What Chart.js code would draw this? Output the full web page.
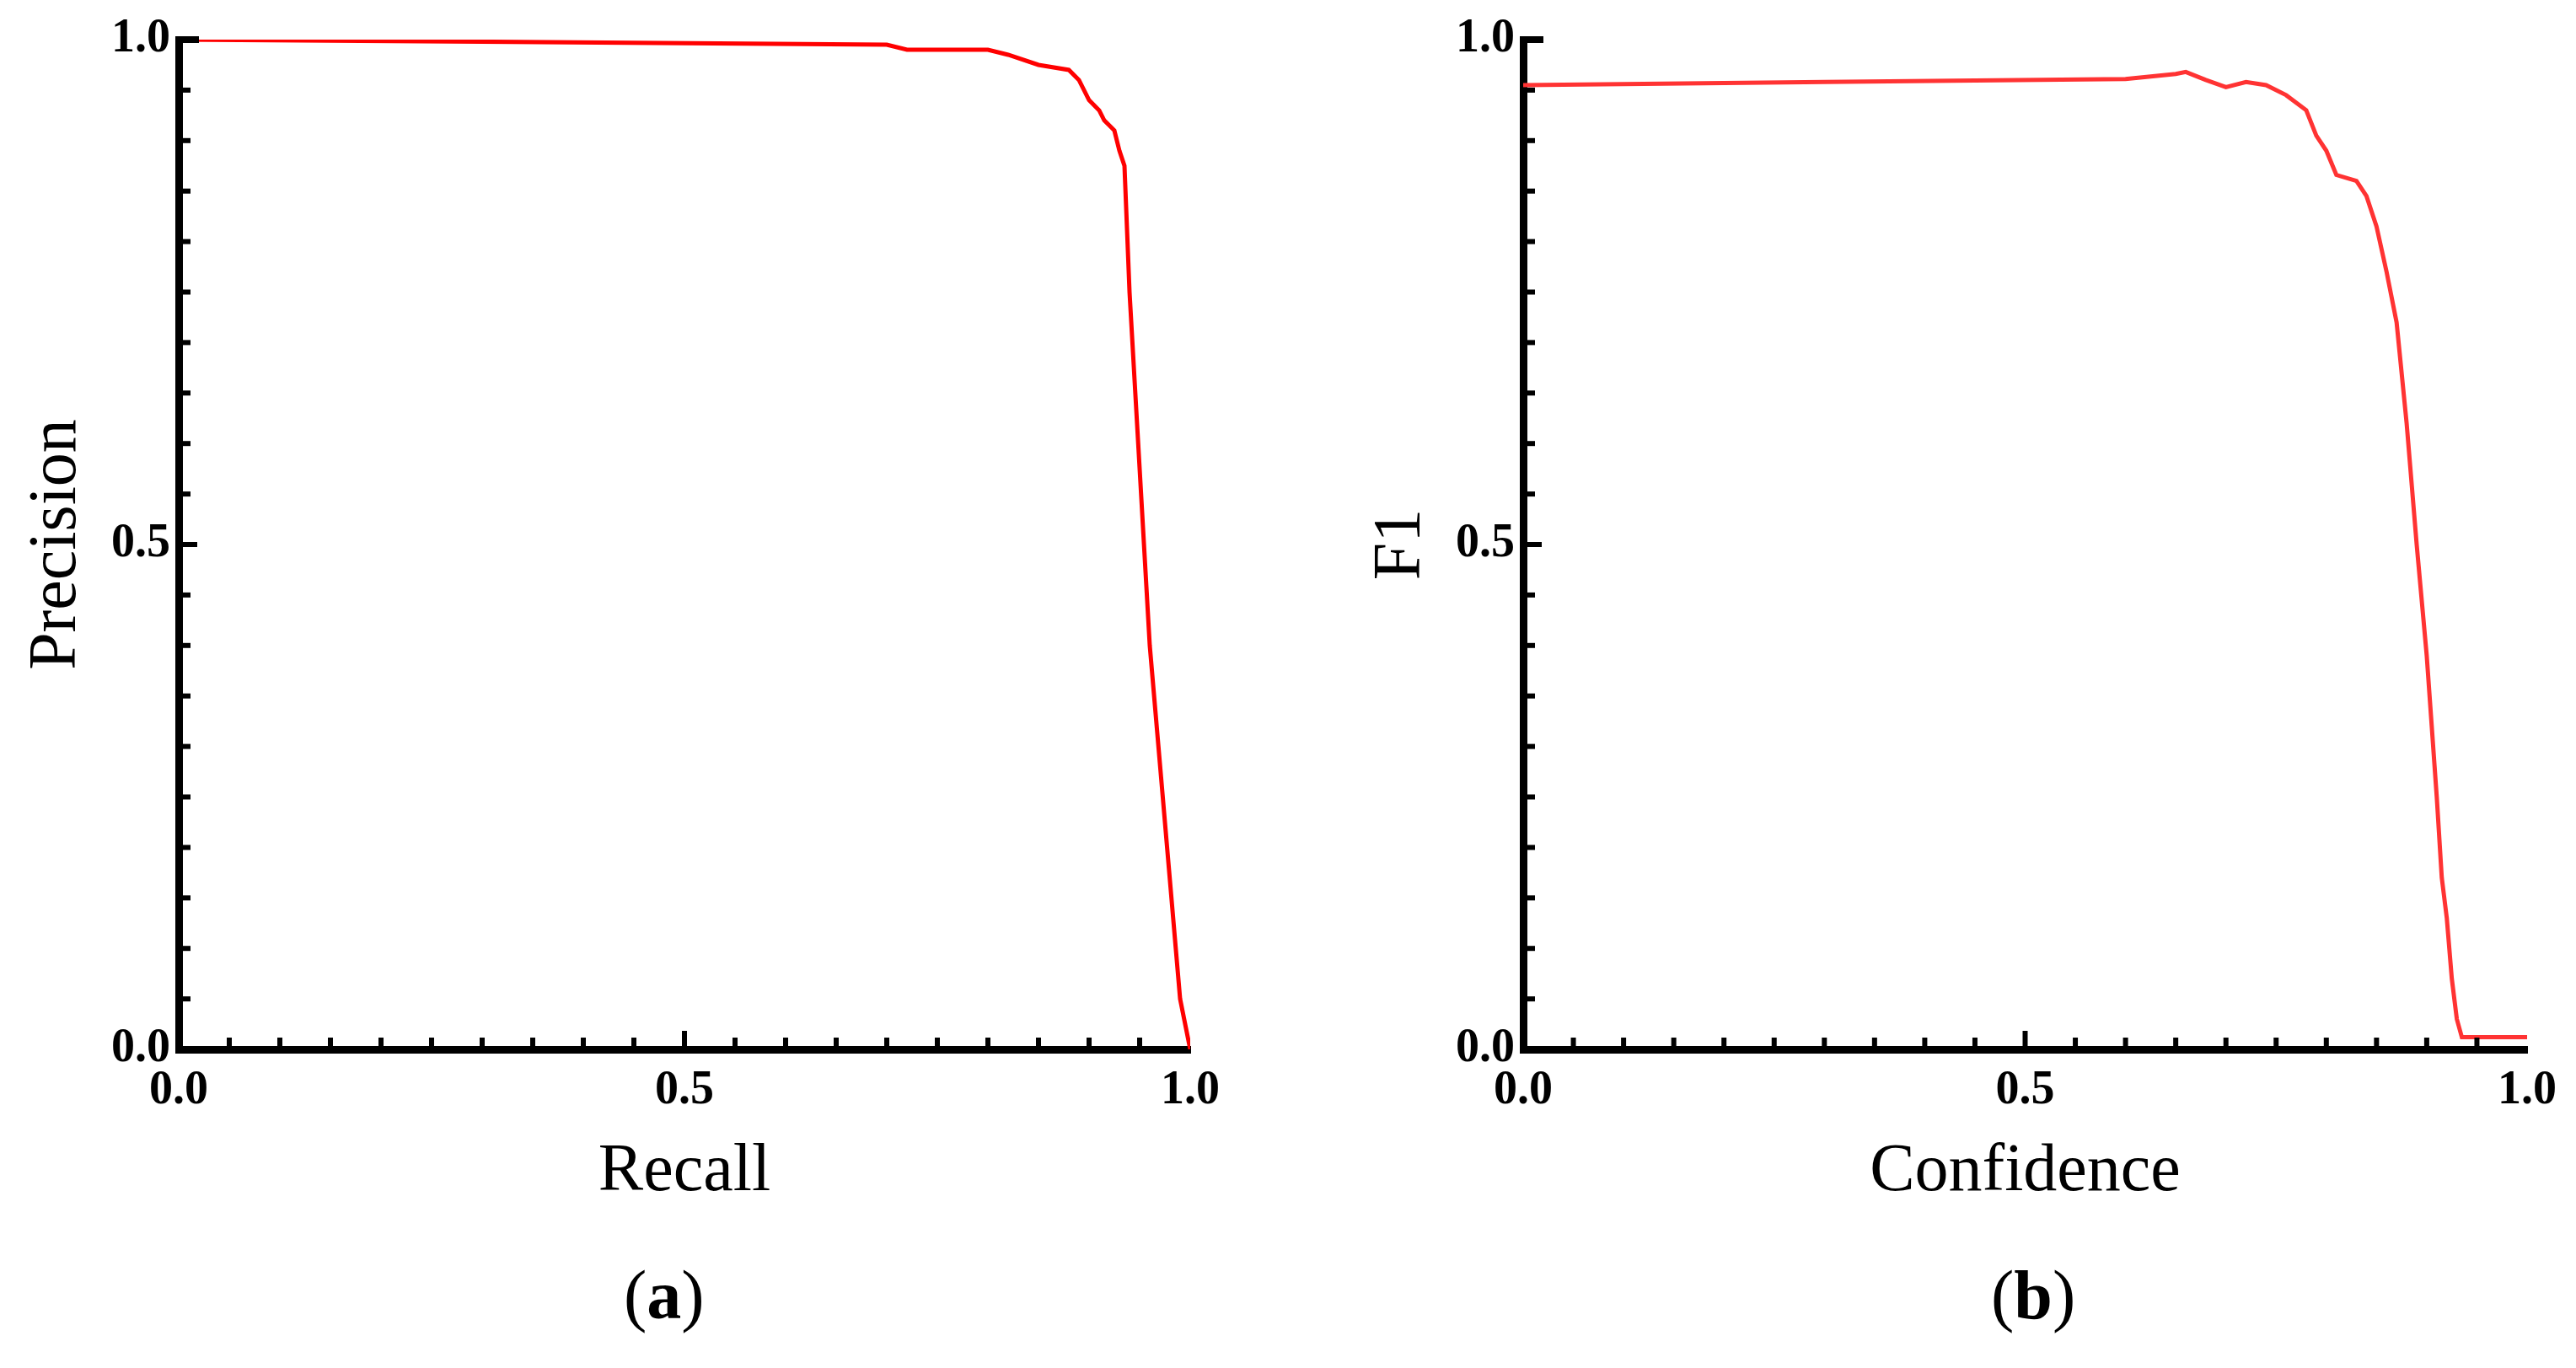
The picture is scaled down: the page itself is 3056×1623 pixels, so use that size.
<!DOCTYPE html>
<html>
<head>
<meta charset="utf-8">
<script src="https://cdn.jsdelivr.net/npm/chart.js@4/dist/chart.umd.min.js"></script>
<style>
  body { margin: 0; background: #fff; width: 3056px; height: 1623px; position: relative; overflow: hidden; }
  .box { position: absolute; top: 0; height: 1623px; }
  .cap { position: absolute; top: 1490px; font-family: "Liberation Serif", serif; font-size: 82px; }
</style>
</head>
<body>
<div class="box" style="left:0;width:1500px"><canvas id="prChart"></canvas></div>
<div class="box" style="left:1595px;width:1461px"><canvas id="f1Chart"></canvas></div>
<div class="cap" style="left:740px">(<b>a</b>)</div>
<div class="cap" style="left:2362px">(<b>b</b>)</div>
<script>
const recall    = [0, 0.3, 0.7, 0.72, 0.8, 0.82, 0.85, 0.88, 0.89, 0.9, 0.91, 0.915, 0.92, 0.925, 0.93, 0.935, 0.94, 0.96, 0.99, 1.0];
const precision = [1, 0.998, 0.995, 0.99, 0.99, 0.985, 0.975, 0.97, 0.96, 0.94, 0.93, 0.92, 0.915, 0.91, 0.89, 0.875, 0.75, 0.4, 0.05, 0];

const confidence = [0, 0.3, 0.6, 0.65, 0.66, 0.68, 0.7, 0.72, 0.74, 0.76, 0.78, 0.79, 0.8, 0.81, 0.83, 0.84, 0.85, 0.86, 0.87, 0.88, 0.89, 0.9, 0.91, 0.915, 0.92, 0.925, 0.93, 0.935, 0.94, 1.0];
const f1Score    = [0.955, 0.958, 0.961, 0.966, 0.968, 0.96, 0.953, 0.958, 0.955, 0.945, 0.93, 0.905, 0.89, 0.866, 0.86, 0.845, 0.815, 0.77, 0.72, 0.62, 0.5, 0.39, 0.25, 0.17, 0.13, 0.07, 0.03, 0.012, 0.012, 0.012];

const tickLabels = ['0.0', '0.5', '1.0'];

// minor ticks drawn inward along both axes, every 0.05
const innerTicks = {
  id: 'innerTicks',
  afterDraw(chart) {
    const ctx = chart.ctx;
    const x = chart.scales.x, y = chart.scales.y;
    ctx.save();
    ctx.strokeStyle = '#000';
    ctx.lineWidth = 6;
    for (let i = 1; i < 20; i++) {
      const v = i / 20;
      const len = i % 10 === 0 ? 22 : 14;
      const px = x.getPixelForValue(v);
      ctx.beginPath(); ctx.moveTo(px, x.top); ctx.lineTo(px, x.top - len); ctx.stroke();
      const py = y.getPixelForValue(v);
      ctx.beginPath(); ctx.moveTo(y.right, py); ctx.lineTo(y.right + len, py); ctx.stroke();
    }
    ctx.lineWidth = 8;
    ctx.beginPath(); ctx.moveTo(y.right, y.getPixelForValue(1)); ctx.lineTo(y.right + 24, y.getPixelForValue(1)); ctx.stroke();
    ctx.restore();
  }
};

function makeChart(id, xs, ys, color, xTitle, yTitle, leftW, rightPad) {
  const ctx = document.getElementById(id).getContext('2d');
  return new Chart(ctx, {
    type: 'line',
    data: {
      datasets: [{
        data: xs.map((v, i) => ({ x: v, y: ys[i] })),
        borderColor: color,
        borderWidth: 5,
        pointRadius: 0,
        tension: 0
      }]
    },
    options: {
      responsive: false,
      animation: false,
      plugins: { legend: { display: false }, tooltip: { enabled: false } },
      layout: { padding: { top: 47, right: rightPad, bottom: 180, left: 20 } },
      scales: {
        x: {
          type: 'linear', min: 0, max: 1,
          grid: { display: false },
          border: { color: '#000', width: 9 },
          afterFit: s => { s.height = 1623 - 1245 - 180; },
          ticks: {
            stepSize: 0.5, color: '#000', padding: 8,
            font: { family: 'Liberation Serif', size: 56, weight: 'bold' },
            callback: v => tickLabels[Math.round(v * 2)]
          },
          title: { display: true, text: xTitle, color: '#000',
                   font: { family: 'Liberation Serif', size: 80 }, padding: { top: 14 } }
        },
        y: {
          min: 0, max: 1,
          grid: { display: false },
          border: { color: '#000', width: 9 },
          afterFit: s => { s.width = leftW - 20; },
          ticks: {
            stepSize: 0.5, color: '#000', padding: 2,
            font: { family: 'Liberation Serif', size: 56, weight: 'bold' },
            callback: v => tickLabels[Math.round(v * 2)]
          },
          title: { display: true, text: yTitle, color: '#000',
                   font: { family: 'Liberation Serif', size: 80 }, padding: 0 }
        }
      }
    },
    plugins: [innerTicks]
  });
}

function sizeCanvas(id, w) {
  const c = document.getElementById(id);
  c.width = w; c.height = 1623;
  c.style.width = w + 'px'; c.style.height = '1623px';
}
sizeCanvas('prChart', 1500);
sizeCanvas('f1Chart', 1461);
makeChart('prChart', recall, precision, '#ff0000', 'Recall', 'Precision', 212, 88);
makeChart('f1Chart', confidence, f1Score, '#ff3333', 'Confidence', 'F1', 212, 58);
</script>
</body>
</html>
